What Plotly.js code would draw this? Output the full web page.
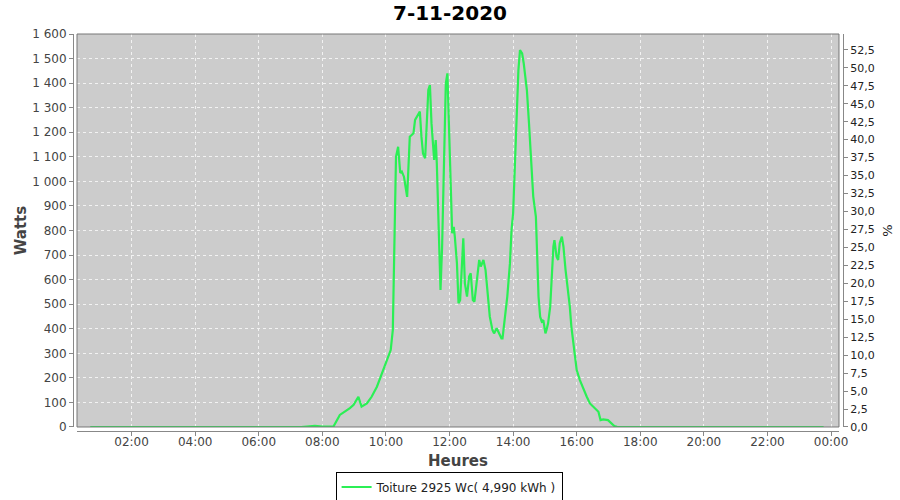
<!DOCTYPE html>
<html>
<head>
<meta charset="utf-8">
<script src="https://cdn.plot.ly/plotly-3.0.1.min.js"></script>
<style>html,body{margin:0;padding:0;background:#fff;}#chart{width:900px;height:500px;}</style>
</head>
<body>
<div id="chart"></div>
<script>
const day = "2020-11-07";
const times = ["00:42","01:30","02:30","03:30","04:30","05:30","06:30","07:20","07:46","08:00","08:21",
"08:33","08:52","08:59","09:08","09:14","09:24","09:33","09:43","09:52","10:02","10:09","10:13","10:15","10:17","10:19","10:23","10:27","10:30","10:34","10:37","10:40","10:45",
"10:52","10:55","11:01","11:04","11:07","11:10","11:14","11:17","11:20","11:23","11:26","11:31","11:34","11:36","11:39","11:41","11:43","11:46","11:50","11:53","11:56","11:59",
"12:02","12:05","12:08","12:10","12:14","12:17","12:20","12:23","12:26","12:29","12:33","12:37","12:40","12:44","12:47","12:51","12:56","12:59",
"13:04","13:08","13:13","13:16","13:21","13:24","13:29","13:33","13:38","13:40","13:45","13:49","13:54","13:57",
"14:00","14:03","14:07","14:10","14:13","14:17","14:20","14:26","14:30","14:35","14:38","14:43","14:46","14:48","14:51","14:54","14:57",
"15:01","15:03","15:06","15:10","15:13","15:16","15:18","15:22","15:25","15:28","15:32","15:35","15:39","15:44","15:47","15:50","15:55",
"16:00","16:06","16:12","16:19","16:25","16:34","16:41","16:45","16:50","16:59","17:06","17:11","17:16",
"18:00","19:00","20:00","21:00","22:00","23:00","23:46"];
const watts = [0,0,0,0,0,0,0,0,5,2,2,
49,77,90,123,83,96,123,164,218,273,313,395,668,937,1100,1141,1034,1040,1019,978,937,1182,
1196,1250,1270,1284,1182,1114,1094,1236,1372,1392,1236,1087,1168,1074,802,639,558,734,1074,1399,1440,1209,
1006,789,815,775,666,504,516,666,768,585,531,612,626,517,510,585,680,653,
680,639,504,449,395,381,402,381,361,361,449,531,666,802,
870,1046,1277,1453,1535,1521,1481,1372,1236,1074,938,856,693,531,449,429,435,
381,395,422,490,639,734,761,693,680,748,775,734,639,558,490,408,313,
232,191,157,123,96,76,62,28,31,28,12,4,1,
0,0,0,0,0,0,0];
const peakPower = 2925;
const seriesName = "Toiture 2925 Wc( 4,990 kWh )";
const chartTitle = "7-11-2020";

const xs = times.map(t => day + " " + t);
const pct = watts.map(w => w / peakPower * 100);
const green = "#2bef55";
const font = "DejaVu Sans, sans-serif";

const data = [
  {x: xs, y: watts, type: "scatter", mode: "lines", name: seriesName,
   line: {color: green, width: 2.2}, xaxis: "x", yaxis: "y"},
  {x: xs, y: pct, type: "scatter", mode: "lines", showlegend: false, hoverinfo: "skip",
   line: {color: "rgba(0,0,0,0)", width: 0}, xaxis: "x", yaxis: "y2"}
];

const layout = {
  width: 900, height: 500,
  margin: {l: 73, r: 57, t: 34, b: 69},
  paper_bgcolor: "#ffffff",
  plot_bgcolor: "#cccccc",
  separators: ", ",
  font: {family: font, size: 12, color: "#444"},
  title: {text: "<b>" + chartTitle + "</b>", x: 0.5, xref: "container", y: 0.974, yref: "container",
          yanchor: "middle", font: {family: font, size: 20, color: "#000"}},
  xaxis: {
    type: "date", domain: [0.0052, 0.9948], anchor: "free", position: 0,
    range: [day + " 00:17", "2020-11-08 00:15"],
    tick0: day + " 00:00", dtick: 7200000, tickformat: "%H:%M",
    showgrid: true, gridcolor: "#f2f2f2", griddash: "3px,3px", gridwidth: 1,
    showline: true, linecolor: "#888", linewidth: 1,
    ticks: "outside", ticklen: 4, tickcolor: "#888", ticklabelstandoff: -4,
    tickfont: {family: font, size: 12, color: "#444"},
    zeroline: false,
    title: {text: "<b>Heures</b>", font: {family: font, size: 15, color: "#444"}, standoff: 7}
  },
  yaxis: {
    domain: [0.0101, 1], anchor: "free", position: 0,
    range: [0, 1600], dtick: 100, tickformat: ",d",
    showgrid: true, gridcolor: "#f2f2f2", griddash: "3px,3px", gridwidth: 1,
    showline: true, linecolor: "#888", linewidth: 1,
    ticks: "outside", ticklen: 4, tickcolor: "#888",
    tickfont: {family: font, size: 12, color: "#444"},
    zeroline: false,
    title: {text: "<b>Watts</b>", font: {family: font, size: 15, color: "#444"}, standoff: 0}
  },
  yaxis2: {
    domain: [0.0101, 1], anchor: "free", position: 1, overlaying: "y", side: "right",
    range: [0, 1600 / peakPower * 100], dtick: 2.5, tick0: 0, tickformat: ".1f",
    showgrid: false, zeroline: false,
    showline: true, linecolor: "#888", linewidth: 1,
    ticks: "outside", ticklen: 4, tickcolor: "#888",
    tickfont: {family: font, size: 11, color: "#222"},
    title: {text: "%", font: {family: font, size: 13, color: "#222"}, standoff: 9}
  },
  shapes: [
    {type: "rect", xref: "x domain", yref: "y domain", x0: 0, x1: 1, y0: 0, y1: 1,
     line: {color: "#777", width: 1}, fillcolor: "rgba(0,0,0,0)", layer: "above"}
  ],
  showlegend: true,
  legend: {orientation: "h", xref: "container", yref: "container", x: 0.499, y: 0.026,
           xanchor: "center", yanchor: "middle",
           bordercolor: "#000", borderwidth: 1, bgcolor: "#fff",
           font: {family: font, size: 12, color: "#222"},
           itemwidth: 30}
};

Plotly.newPlot("chart", data, layout, {displayModeBar: false, staticPlot: true});
</script>
</body>
</html>
